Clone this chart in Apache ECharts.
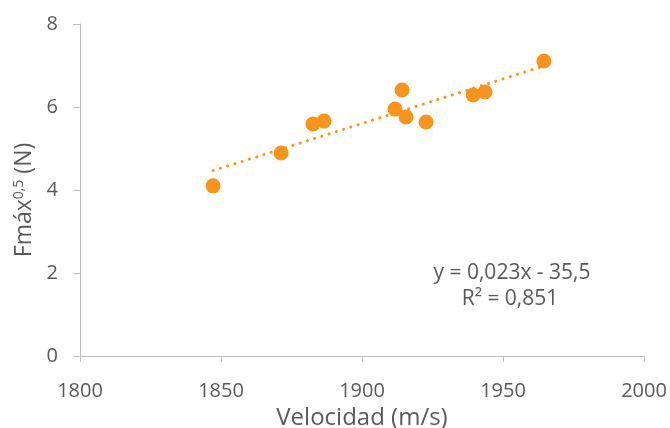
<!DOCTYPE html>
<html><head><meta charset="utf-8">
<script src="https://cdn.jsdelivr.net/npm/echarts@6/dist/echarts.min.js"></script>
<style>html,body{margin:0;padding:0;background:#fff}#c{width:670px;height:428px}</style>
</head><body><div id="c"></div>
<script>
var velocidad = [1847.2, 1871.3, 1882.6, 1886.5, 1911.7, 1914.2, 1915.6, 1922.7, 1939.4, 1943.6, 1964.5];
var fmax = [4.10, 4.89, 5.59, 5.66, 5.95, 6.41, 5.76, 5.64, 6.29, 6.36, 7.11];
var xTicks = [1800, 1850, 1900, 1950, 2000];
var yTicks = [0, 2, 4, 6, 8];
var eqLines = ['y = 0,023x - 35,5', 'R² = 0,851'];

var pts = velocidad.map(function(v, i){ return [v, fmax[i]]; });
// least-squares trendline
var n = pts.length, mx = 0, my = 0;
pts.forEach(function(p){ mx += p[0]; my += p[1]; });
mx /= n; my /= n;
var sxy = 0, sxx = 0;
pts.forEach(function(p){ sxy += (p[0]-mx)*(p[1]-my); sxx += (p[0]-mx)*(p[0]-mx); });
var b = sxy / sxx, a = my - b * mx;
var xmin = Math.min.apply(null, velocidad), xmax = Math.max.apply(null, velocidad);
var trend = [[xmin, a + b*xmin], [xmax, a + b*xmax]];

var font = '"Open Sans", "Liberation Sans", sans-serif';
var col = '#F7941D';
var grey = '#595959';
var chart = echarts.init(document.getElementById('c'));
chart.setOption({
  animation: false,
  grid: {left: 80, right: 26, top: 24, bottom: 72, containLabel: false, outerBoundsMode: 'none'},
  xAxis: {
    type: 'value', min: xTicks[0], max: xTicks[xTicks.length-1], interval: 50,
    splitLine: {show: false},
    axisLine: {show: true, lineStyle: {color: '#BFBFBF', width: 1}},
    axisTick: {show: true, length: 6, lineStyle: {color: '#BFBFBF'}},
    axisLabel: {color: grey, fontSize: 20, fontFamily: font, margin: 25,
      formatter: function(v){ return String(v); }},
    name: 'Velocidad (m/s)', nameLocation: 'middle', nameGap: 49,
    nameTextStyle: {color: grey, fontSize: 24, fontFamily: font}
  },
  yAxis: {
    type: 'value', min: yTicks[0], max: yTicks[yTicks.length-1], interval: 2,
    splitLine: {show: false},
    axisLine: {show: true, lineStyle: {color: '#BFBFBF', width: 1}},
    axisTick: {show: true, length: 7, lineStyle: {color: '#BFBFBF'}},
    axisLabel: {color: grey, fontSize: 20, fontFamily: font, margin: 22,
      formatter: function(v){ return String(v); }},
    name: '{n|Fmáx}{s|0,5}{n| (N)}', nameLocation: 'middle', nameGap: 44, nameRotate: 90,
    nameTextStyle: {
      padding: [0, 20, 0, 0],
      rich: {
        n: {color: grey, fontSize: 23, fontFamily: font},
        s: {color: grey, fontSize: 14, fontFamily: font, verticalAlign: 'top', padding: [0,0,10,0]}
      }
    }
  },
  series: [
    {
      type: 'line', data: trend, showSymbol: false, symbol: 'none',
      lineStyle: {color: col, width: 3, type: [0.1, 7.5], cap: 'round'},
      z: 1, silent: true
    },
    {
      type: 'scatter', data: pts, symbol: 'circle', symbolSize: 15,
      itemStyle: {color: col, opacity: 1}, z: 2
    }
  ],
  graphic: [
    {type: 'text', x: 512, y: 273, style: {text: eqLines[0], fill: grey, font: '21px ' + font, align: 'center', verticalAlign: 'middle'}},
    {type: 'text', x: 510, y: 299, style: {text: eqLines[1], fill: grey, font: '21px ' + font, align: 'center', verticalAlign: 'middle'}}
  ]
});
</script></body></html>
